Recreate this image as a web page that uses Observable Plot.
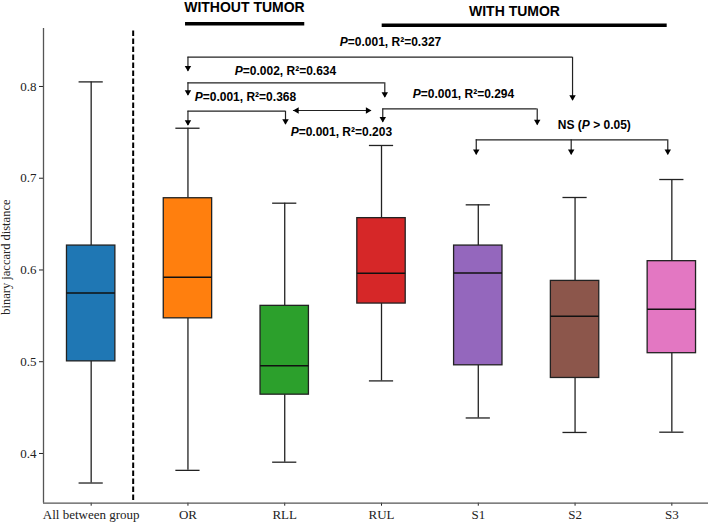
<!DOCTYPE html>
<html>
<head>
<meta charset="utf-8">
<script src="https://cdn.jsdelivr.net/npm/d3@7"></script>
<script src="https://cdn.jsdelivr.net/npm/@observablehq/plot@0.6"></script>
<style>
  html, body { margin: 0; padding: 0; background: #fff; }
</style>
</head>
<body>
<div id="chart"></div>
<script>
// ---- data ----
const categories = ["All between group", "OR", "RLL", "RUL", "S1", "S2", "S3"];
const whiskerHigh = [0.805, 0.7545, 0.6728, 0.7357, 0.671, 0.679, 0.6986];
const q3 = [0.6266, 0.6782, 0.5609, 0.6565, 0.6266, 0.5881, 0.6096];
const medians = [0.575, 0.592, 0.4955, 0.5965, 0.5968, 0.5496, 0.5573];
const q1 = [0.5004, 0.5473, 0.4641, 0.5634, 0.4961, 0.4823, 0.5093];
const whiskerLow = [0.3678, 0.3816, 0.3905, 0.4791, 0.4387, 0.4229, 0.4232];
const boxColors = ["#1f77b4", "#ff7f0e", "#2ca02c", "#d62728", "#9467bd", "#8c564b", "#e377c2"];
const yTicks = [0.4, 0.5, 0.6, 0.7, 0.8];
const yLabel = "binary jaccard distance";
const yLabelPos = {x: -0.875, y: 0.614};

// separator (category-position units, data units)
const separatorX = 0.434;
const separatorSpan = [0.3487, 0.861];

// group headers
const headerTexts = [
  {x: 1.584, y: 0.8864, text: "WITHOUT TUMOR"},
  {x: 4.374, y: 0.882, text: "WITH TUMOR"}
];
const headerLines = [
  {x1: 0.975, x2: 2.207, y: 0.8683},
  {x1: 3.007, x2: 5.952, y: 0.8668}
];

// significance brackets
const bracketLines = [
  {x1: 1, x2: 4.974, y: 0.8319},
  {x1: 1, x2: 3.034, y: 0.804},
  {x1: 1, x2: 2.008, y: 0.7731},
  {x1: 3.013, x2: 4.609, y: 0.7755},
  {x1: 3.979, x2: 5.958, y: 0.7419}
];
const bracketDrops = [
  {x: 1, y: 0.8319, tip: 0.8167}, {x: 4.974, y: 0.8319, tip: 0.7847},
  {x: 1, y: 0.804, tip: 0.7902}, {x: 3.034, y: 0.804, tip: 0.788},
  {x: 1, y: 0.7731, tip: 0.7575}, {x: 2.008, y: 0.7731, tip: 0.7586},
  {x: 3.013, y: 0.7755, tip: 0.7611}, {x: 4.609, y: 0.7755, tip: 0.758},
  {x: 3.979, y: 0.7419, tip: 0.7256}, {x: 4.96, y: 0.7419, tip: 0.7256},
  {x: 5.958, y: 0.7419, tip: 0.7256}
];
const doubleArrow = {x1: 2.09, x2: 2.893, y: 0.7738};
const bracketTexts = [
  {x: 3.093, y: 0.848, text: "P=0.001, R²=0.327"},
  {x: 2.008, y: 0.8163, text: "P=0.002, R²=0.634"},
  {x: 1.594, y: 0.788, text: "P=0.001, R²=0.368"},
  {x: 2.585, y: 0.7502, text: "P=0.001, R²=0.203"},
  {x: 3.847, y: 0.7913, text: "P=0.001, R²=0.294"},
  {x: 5.199, y: 0.7575, text: "NS (P > 0.05)"}
];

// ---- table ----
const boxes = categories.map((c, i) => ({
  cat: c, pos: i, hi: whiskerHigh[i], q3: q3[i], med: medians[i], q1: q1[i], lo: whiskerLow[i]
}));
const positions = categories.map((c, i) => i);
const yDomain = [0.3458, 0.8632];
const xDomain = [-0.4926, 6.3788];

const boxHalf = 0.25, capHalf = 0.125;
const dark = "#222";
const sans = "'Liberation Sans', Arial, sans-serif";

const svg = Plot.plot({
  width: 708,
  height: 524,
  marginLeft: 43,
  marginRight: 0,
  marginTop: 28,
  marginBottom: 21.3,
  style: {fontFamily: "'Liberation Serif', 'Times New Roman', serif", fontSize: "13px", background: "#fff", color: "#222", overflow: "visible"},
  x: {type: "linear", domain: xDomain, label: null},
  y: {domain: yDomain, label: null},
  color: {domain: categories, range: boxColors},
  marks: [
    Plot.axisY({ticks: yTicks, tickFormat: d3.format(".1f"), tickSize: 4, tickPadding: 3, label: null, fontSize: 13}),
    Plot.axisX({ticks: positions, tickFormat: i => categories[i], tickSize: 3, tickPadding: 4, label: null, fontSize: 13}),
    Plot.ruleX([xDomain[0]], {stroke: "#555", strokeWidth: 1.3}),
    Plot.ruleY([yDomain[0]], {stroke: "#555", strokeWidth: 1.3}),
    Plot.text([yLabelPos], {x: "x", y: "y", text: () => yLabel, rotate: -90, fontSize: 12.5, fill: "#222"}),
    // separator
    Plot.ruleX([separatorX], {y1: separatorSpan[0], y2: separatorSpan[1], stroke: "#000", strokeWidth: 2, strokeDasharray: "5.5,2.5"}),
    // whiskers
    Plot.ruleX(boxes, {x: "pos", y1: "q3", y2: "hi", stroke: dark, strokeWidth: 1.3}),
    Plot.ruleX(boxes, {x: "pos", y1: "lo", y2: "q1", stroke: dark, strokeWidth: 1.3}),
    Plot.ruleY(boxes, {y: "hi", x1: d => d.pos - capHalf, x2: d => d.pos + capHalf, stroke: dark, strokeWidth: 1.3}),
    Plot.ruleY(boxes, {y: "lo", x1: d => d.pos - capHalf, x2: d => d.pos + capHalf, stroke: dark, strokeWidth: 1.3}),
    // boxes
    Plot.rect(boxes, {x1: d => d.pos - boxHalf, x2: d => d.pos + boxHalf, y1: "q1", y2: "q3", fill: "cat", stroke: dark, strokeWidth: 1.3}),
    Plot.ruleY(boxes, {y: "med", x1: d => d.pos - boxHalf, x2: d => d.pos + boxHalf, stroke: "#111", strokeWidth: 1.5}),
    // headers
    Plot.text(headerTexts, {x: "x", y: "y", text: "text", fontFamily: sans, fontWeight: "bold", fontSize: 14, fill: "#000"}),
    Plot.ruleY(headerLines, {y: "y", x1: "x1", x2: "x2", stroke: "#000", strokeWidth: 3.5}),
    // brackets
    Plot.ruleY(bracketLines, {y: "y", x1: "x1", x2: "x2", stroke: "#222", strokeWidth: 1.2}),
    Plot.ruleX(bracketDrops, {x: "x", y1: "y", y2: "tip", stroke: "#222", strokeWidth: 1.2}),
    Plot.dot(bracketDrops, {x: "x", y: "tip", symbol: "triangle", r: 2.4, rotate: 180, fill: "#000", stroke: "none", dy: -3.4}),
    Plot.ruleY([doubleArrow], {y: "y", x1: "x1", x2: "x2", stroke: "#222", strokeWidth: 1.2}),
    Plot.dot([doubleArrow], {x: "x1", y: "y", symbol: "triangle", r: 2.4, rotate: -90, fill: "#000", stroke: "none", dx: 3.4}),
    Plot.dot([doubleArrow], {x: "x2", y: "y", symbol: "triangle", r: 2.4, rotate: 90, fill: "#000", stroke: "none", dx: -3.4}),
    Plot.text(bracketTexts, {x: "x", y: "y", text: "text", fontFamily: sans, fontWeight: "bold", fontSize: 12, fill: "#000"})
  ]
});

// italicise the statistic "P"
svg.querySelectorAll("text").forEach(t => {
  if (t.querySelector("tspan")) return;
  const s = t.textContent;
  if (!/P[=\s>]/.test(s) || s === yLabel) return;
  const parts = s.split("P");
  t.textContent = "";
  parts.forEach((p, i) => {
    if (i > 0) {
      const it = document.createElementNS("http://www.w3.org/2000/svg", "tspan");
      it.setAttribute("font-style", "italic");
      it.textContent = "P";
      t.appendChild(it);
    }
    if (p) t.appendChild(document.createTextNode(p));
  });
});

document.getElementById("chart").appendChild(svg);
</script>
</body>
</html>
